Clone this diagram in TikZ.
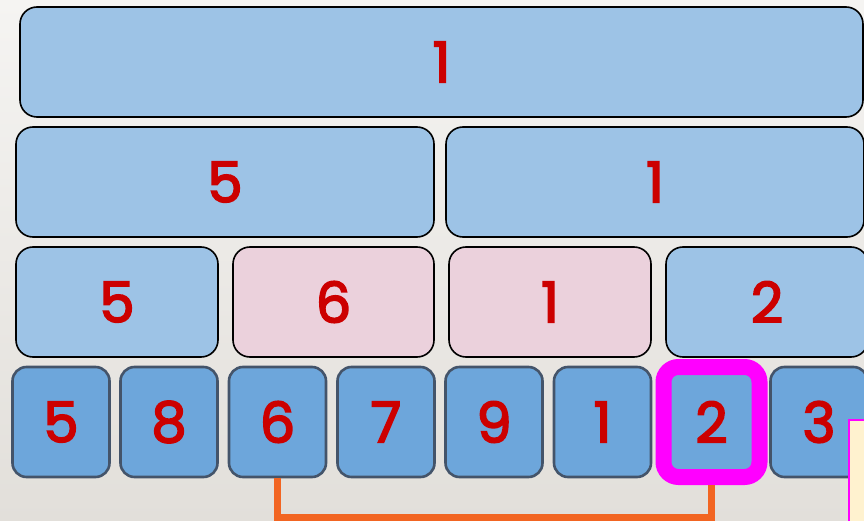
\documentclass[tikz,border=0pt]{standalone}
\usepackage{fontspec}
\setmainfont{Poppins}
\newfontfamily\numfont{Poppins}[FakeBold=3]
\definecolor{lblue}{HTML}{9DC3E6}
\definecolor{lpink}{HTML}{EBD1DC}
\definecolor{dblue}{HTML}{6DA6DB}
\definecolor{bordb}{HTML}{44546A}
\definecolor{numred}{HTML}{CC0000}
\definecolor{connor}{HTML}{F26522}
\definecolor{hilite}{HTML}{FF00FF}
\definecolor{pale}{HTML}{FFF2CF}
\definecolor{bgtop}{HTML}{F5F4F2}
\definecolor{bgbot}{HTML}{E2DFDA}
\tikzset{
  numtext/.style={text=numred, font=\fontsize{56}{60}\numfont, inner sep=0pt},
  upbox/.style={numtext, draw=black, line width=1.6pt, rounded corners=17pt, fill=lblue, minimum height=110pt},
  pinkbox/.style={upbox, fill=lpink},
  leafbox/.style={numtext, draw=bordb, line width=2.6pt, rounded corners=14pt, fill=dblue, minimum width=97pt, minimum height=110pt},
  selbox/.style={leafbox, draw=hilite, line width=16pt, rounded corners=15pt, minimum width=96pt},
  conn/.style={draw=connor, line width=7pt}
}
\begin{document}
\begin{tikzpicture}[x=1pt,y=-1pt]
\shade[top color=bgtop, bottom color=bgbot] (0,0) rectangle (864,521);
\useasboundingbox (0,0) rectangle (864,521);
% level 1
\node[upbox, minimum width=843pt] (t1) at (441.5,62) {1};
% level 2
\node[upbox, minimum width=418pt] (m1) at (225,182) {5};
\node[upbox, minimum width=418pt] (m2) at (655,182) {1};
% level 3
\node[upbox, minimum width=202pt] (q1) at (117,302) {5};
\node[pinkbox, minimum width=201pt] (q2) at (333.5,302) {6};
\node[pinkbox, minimum width=202pt] (q3) at (550,302) {1};
\node[upbox, minimum width=202pt] (q4) at (767,302) {2};
% leaves
\node[leafbox] (l1) at (61,422) {5};
\node[leafbox] (l2) at (169,422) {8};
\node[leafbox] (l3) at (277.5,422) {6};
\node[leafbox] (l4) at (386,422) {7};
\node[leafbox] (l5) at (494,422) {9};
\node[leafbox] (l6) at (602.5,422) {1};
\node[selbox] (l7) at (711.5,422) {2};
\node[leafbox] (l8) at (819,422) {3};
% connector
\draw[conn] (l3.south) -- (l3.south |- 0,517.5) -| (l7.south);
% pale note
\draw[draw=hilite, line width=1.5pt, fill=pale] (849,420) rectangle (880,540);
\end{tikzpicture}
\end{document}
